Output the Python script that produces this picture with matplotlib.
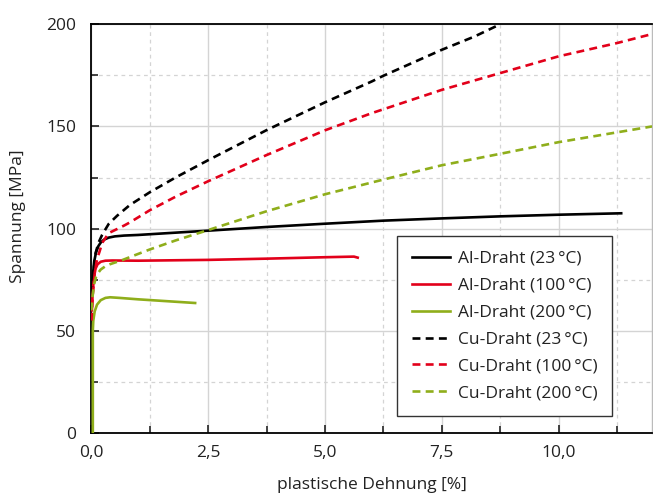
import matplotlib
matplotlib.use("Agg")
import matplotlib.pyplot as plt
from matplotlib.ticker import MultipleLocator, FuncFormatter

plt.rcParams['font.family'] = ['Open Sans', 'DejaVu Sans']

# Data (plastic strain [%], stress [MPa])
al23_x = [0.01, 0.03, 0.06, 0.10, 0.15, 0.20, 0.27, 0.37, 0.50, 0.70, 1.00, 1.50, 2.50, 3.75, 5.00, 6.25, 7.50, 8.75, 10.00, 11.34]
al23_y = [68, 77, 84, 88.5, 91.5, 93.2, 94.6, 95.6, 96.2, 96.6, 96.9, 97.6, 99.0, 100.8, 102.4, 103.9, 105.0, 106.0, 106.8, 107.5]

al100_x = [0.01, 0.03, 0.06, 0.09, 0.13, 0.20, 0.30, 0.45, 1.00, 2.50, 3.75, 5.00, 5.62, 5.70]
al100_y = [60, 70, 77, 80.5, 82.5, 83.8, 84.3, 84.4, 84.3, 84.7, 85.3, 86.0, 86.3, 85.8]

al200_x = [0.03, 0.03, 0.04, 0.07, 0.12, 0.20, 0.30, 0.40, 0.60, 1.00, 2.22]
al200_y = [0, 50, 55, 59.5, 62.8, 65.0, 66.1, 66.4, 66.1, 65.4, 63.6]

cu23_x = [0.01, 0.04, 0.09, 0.15, 0.23, 0.37, 0.55, 0.82, 1.25, 1.80, 2.50, 3.75, 5.00, 6.00, 6.25, 7.50, 8.20, 8.75]
cu23_y = [68, 78, 88, 93, 97, 102.3, 106.3, 111.5, 117.8, 125.0, 133.5, 148.2, 161.8, 172.0, 174.8, 187.5, 194.0, 200.0]

cu100_x = [0.00, 0.03, 0.07, 0.12, 0.17, 0.23, 0.37, 0.55, 0.70, 0.82, 1.00, 1.25, 1.80, 2.50, 3.75, 5.00, 6.00, 7.50, 8.75, 10.00, 11.25, 12.00]
cu100_y = [55, 68, 78, 85.2, 88.5, 93.0, 97.8, 99.8, 101.5, 103.0, 105.5, 109.0, 115.6, 123.2, 136.0, 148.1, 156.5, 167.9, 176.1, 184.3, 190.8, 195.2]

cu200_x = [0.00, 0.03, 0.06, 0.10, 0.15, 0.20, 0.30, 0.40, 0.66, 0.93, 1.25, 1.80, 2.50, 3.75, 5.00, 6.25, 7.50, 8.75, 10.00, 11.25, 12.00]
cu200_y = [60, 68, 73, 76.5, 78.5, 80.0, 81.6, 82.6, 84.6, 87.0, 89.8, 94.2, 99.3, 108.5, 116.8, 124.0, 131.0, 136.6, 142.3, 147.1, 150.0]

labels = ['Al-Draht (23\u2009°C)', 'Al-Draht (100\u2009°C)', 'Al-Draht (200\u2009°C)',
          'Cu-Draht (23\u2009°C)', 'Cu-Draht (100\u2009°C)', 'Cu-Draht (200\u2009°C)']

BLACK = '#000000'
RED = '#e2001a'
GREEN = '#8fae1b'
TXT = '#222222'
FS = 12.5

fig = plt.figure(figsize=(6.53, 4.95), dpi=100)
ax = fig.add_axes([0.140, 0.1253, 0.8585, 0.8257])

lw = 1.9
dash = (3.0, 2.0)
ax.plot(al23_x, al23_y, color=BLACK, lw=lw, label=labels[0], zorder=3)
ax.plot(al100_x, al100_y, color=RED, lw=lw, label=labels[1], zorder=3)
ax.plot(al200_x, al200_y, color=GREEN, lw=lw, label=labels[2], zorder=3)
ax.plot(cu23_x, cu23_y, color=BLACK, lw=lw, ls=(0, dash), label=labels[3], zorder=3)
ax.plot(cu100_x, cu100_y, color=RED, lw=lw, ls=(0, dash), label=labels[4], zorder=3)
ax.plot(cu200_x, cu200_y, color=GREEN, lw=lw, ls=(0, dash), label=labels[5], zorder=3)

ax.set_xlim(0, 12)
ax.set_ylim(0, 200)
ax.xaxis.set_major_locator(MultipleLocator(2.5))
ax.xaxis.set_minor_locator(MultipleLocator(1.25))
ax.yaxis.set_major_locator(MultipleLocator(50))
ax.yaxis.set_minor_locator(MultipleLocator(25))
ax.xaxis.set_major_formatter(FuncFormatter(lambda v, p: f"{v:.1f}".replace('.', ',')))
ax.yaxis.set_major_formatter(FuncFormatter(lambda v, p: f"{v:.0f}"))

ax.grid(which='major', color='#d4d4d4', lw=1.0, ls='-', zorder=0)
ax.grid(which='minor', color='#d4d4d4', lw=0.9, ls=(0, (3, 3)), zorder=0)
ax.set_axisbelow(True)

ax.tick_params(which='both', direction='in', top=False, right=False, labelsize=FS, colors=TXT, width=1.2)
ax.tick_params(which='major', length=6, pad=9)
ax.tick_params(which='minor', length=5)
ax.tick_params(axis='y', pad=11)

for s in ['left', 'bottom', 'top']:
    ax.spines[s].set_color('#000000')
    ax.spines[s].set_linewidth(1.3)
ax.spines['right'].set_color('#bbbbbb')
ax.spines['right'].set_linewidth(1.0)

ax.set_xlabel('plastische Dehnung [%]', fontsize=FS, color=TXT, labelpad=11)
ax.set_ylabel('Spannung [MPa]', fontsize=FS, color=TXT)
ax.yaxis.set_label_coords(-0.117, 0.53)

leg = ax.legend(loc='upper left', bbox_to_anchor=(0.545, 0.482), fontsize=FS,
                frameon=True, fancybox=False, framealpha=1, edgecolor='#333333',
                handlelength=2.2, handletextpad=0.45, labelspacing=0.62,
                borderpad=0.85, borderaxespad=0)
leg.get_frame().set_linewidth(1.0)
for t in leg.get_texts():
    t.set_color(TXT)

fig.savefig('out.png', dpi=100)
